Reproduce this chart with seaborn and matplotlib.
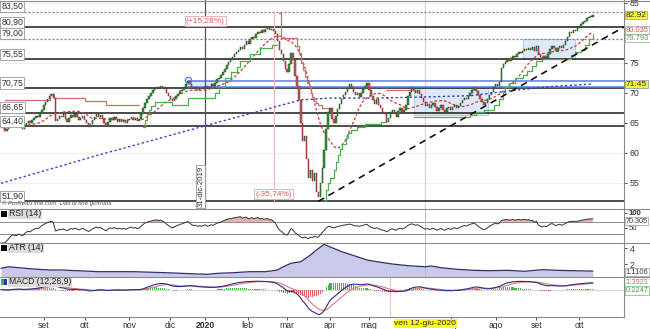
import numpy as np
import pandas as pd
import matplotlib
matplotlib.use("Agg")
import matplotlib.pyplot as plt
import seaborn as sns
from matplotlib.patches import Rectangle
from matplotlib.lines import Line2D

# ---------------- data ----------------
close = [
    64.6, 64.2, 63.6, 64.0, 64.5, 65.0, 65.4, 65.0, 64.8, 65.2, 64.6, 64.0, 64.5, 65.0, 65.3, 65.0, 65.5,
    65.8, 66.2, 66.0, 66.6, 67.2, 67.9, 68.4, 69.0, 69.5, 69.8, 69.2, 65.3,
    65.6, 66.2, 65.9, 66.4, 65.7, 65.2, 65.8, 66.3, 65.9, 66.5, 66.0, 65.4, 65.8, 66.2,
    65.5, 64.9, 64.3, 64.8, 65.5, 66.0, 66.4, 65.9, 66.3, 65.6, 65.0,
    64.4, 65.2, 65.8, 65.4, 65.9, 65.6, 65.2, 65.6, 65.1, 65.5, 65.0, 65.4, 65.7,
    66.0, 65.5, 65.8, 65.3, 65.6, 66.4,
    67.4, 68.3, 68.9, 69.5, 69.9, 70.4, 70.7, 71.0, 70.8, 71.2, 70.9, 70.6, 70.0, 69.5, 69.0, 68.6,
    69.0, 69.5, 69.8, 70.3, 70.5, 71.0, 71.4, 72.0,
    71.5, 71.0, 70.7, 70.9, 70.5, 70.8, 70.6, 70.9, 71.2, 70.8, 71.0, 71.4, 71.2, 71.7, 72.3,
    72.4, 72.9, 73.4, 74.0, 74.6, 75.1, 75.5, 76.0, 76.4, 76.8, 77.2, 77.6, 77.3, 78.0, 78.6,
    78.2, 78.9, 79.3, 79.1, 79.8, 80.2, 79.9, 80.4, 80.2, 80.6, 80.8, 80.5, 80.7, 80.3,
    79.8, 78.6, 77.2, 76.5, 75.3, 74.0, 73.4, 74.8, 76.6, 75.5, 72.8, 71.2, 68.8, 65.0, 62.0,
    62.8, 59.0, 55.8, 57.2, 55.3, 56.6, 53.5, 52.6, 55.0,
    57.5, 60.5, 64.0, 66.8, 67.4, 65.6, 64.9, 66.2, 67.3, 68.1, 68.9, 69.6, 70.1, 70.6,
    71.4, 71.0, 70.2, 69.6, 69.9, 69.3, 70.0, 70.6, 71.2, 71.7, 70.4, 69.4, 68.8, 68.2, 68.9,
    68.0, 67.4, 66.8, 66.5, 65.2, 65.8, 66.8,
    67.2, 66.5, 66.0, 66.9, 67.4, 66.8, 67.2, 68.0, 69.4, 70.2, 70.8, 70.4, 70.0, 70.5, 69.8,
    69.2, 68.4, 67.8, 68.2,
    67.5, 67.9, 68.3, 67.6, 67.0, 67.5, 67.9, 67.2, 66.8, 67.4, 67.7, 67.1, 67.6, 68.0, 67.4,
    67.8, 68.3, 68.8, 69.2, 68.9, 69.5, 69.9, 70.4, 70.8, 70.3, 69.6, 69.0, 68.4, 67.9, 68.3,
    68.9, 69.6, 70.2, 70.9, 71.5, 71.2, 71.8,
    74.2, 74.8, 75.2, 75.6, 75.3, 75.8, 76.1, 75.9, 76.4, 76.8, 76.6, 77.0, 77.3, 77.1, 77.5,
    77.2, 77.6, 77.0, 77.8, 76.4, 76.0, 75.6, 76.2, 75.8, 76.5, 77.3, 77.8, 77.4, 76.9, 77.5,
    77.8, 77.4, 78.0, 78.6, 79.3, 80.1, 80.0, 80.5, 80.3, 80.8, 81.0, 81.4, 81.8, 82.0, 82.4,
    82.6, 82.7, 82.92,
]
last_session = "2020-10-12"
holidays = ["2019-08-15", "2019-12-24", "2019-12-25", "2019-12-26", "2019-12-31",
            "2020-01-01", "2020-04-10", "2020-04-13", "2020-05-01"]

level_solid = [80.90, 75.55, 70.75, 66.65, 64.40, 51.90]
level_dotted = [83.50, 79.00]

blue_band = [71.9, 70.9]
blue_band_start = "2019-12-13"
blue_marker_value = 72.1

box_starts = ["2019-12-13", "2020-06-04", "2020-08-21"]
box_ends = ["2020-01-09", "2020-07-28", "2020-09-29"]
box_lows = [70.9, 66.3, 75.55]
box_highs = [71.9, 70.8, 79.0]

ma200_dates = ["2019-07-31", "2019-10-10", "2020-01-02", "2020-03-11", "2020-04-01", "2020-05-07",
               "2020-06-15", "2020-07-15", "2020-08-12", "2020-09-09", "2020-10-12"]
ma200_vals = [54.9, 59.6, 64.5, 68.8, 69.1, 69.1, 69.3, 69.5, 70.3, 71.0, 71.45]

red_stop_dates = [
    ["2019-08-02", "2019-09-05", "2019-09-09", "2019-10-01", "2019-10-16", "2019-11-08"],
    ["2020-02-25", "2020-02-26", "2020-03-09", "2020-03-10", "2020-03-11", "2020-03-12", "2020-03-13",
     "2020-03-16", "2020-03-17", "2020-03-18", "2020-03-19", "2020-03-20", "2020-03-23", "2020-03-24",
     "2020-03-26", "2020-03-31"],
    ["2020-05-15", "2020-06-04"],
]
red_stop_vals = [
    [68.8, 69.8, 69.2, 68.6, 67.9, 67.9],
    [83.3, 79.1, 77.8, 76.6, 75.0, 73.8, 72.6, 71.6, 70.9, 70.0, 69.3, 68.7, 68.3, 67.9, 67.4, 67.4],
    [70.45, 70.45],
]
green_stop_dates = [
    ["2019-11-12", "2019-11-13", "2019-11-14", "2019-11-15", "2019-11-18", "2019-11-20", "2019-12-03",
     "2019-12-13", "2020-01-09", "2020-01-13", "2020-01-16", "2020-01-21", "2020-01-24", "2020-01-28",
     "2020-02-04", "2020-02-11", "2020-02-19", "2020-02-24"],
    ["2020-03-27", "2020-03-30", "2020-03-31", "2020-04-01", "2020-04-03", "2020-04-06", "2020-04-07",
     "2020-04-08", "2020-04-09", "2020-04-15", "2020-04-16", "2020-04-20", "2020-04-23", "2020-04-29",
     "2020-05-12", "2020-05-15"],
    ["2020-06-04", "2020-07-15", "2020-07-20", "2020-07-24", "2020-07-31", "2020-08-05", "2020-08-07",
     "2020-08-10", "2020-08-12", "2020-08-17", "2020-08-21", "2020-08-25", "2020-08-28", "2020-09-01",
     "2020-09-04", "2020-09-24", "2020-09-25", "2020-09-29", "2020-10-02", "2020-10-06", "2020-10-08",
     "2020-10-12"],
]
green_stop_vals = [
    [64.3, 65.5, 66.5, 67.2, 67.8, 68.5, 68.0, 69.1, 70.0, 71.0, 72.4, 73.5, 74.3, 75.3, 76.5, 77.4,
     77.9, 77.9],
    [52.0, 53.8, 55.0, 55.8, 57.2, 58.5, 59.6, 60.6, 61.5, 62.5, 63.3, 63.8, 64.3, 64.8, 65.1, 65.1],
    [65.9, 66.3, 66.8, 67.2, 68.0, 69.0, 70.2, 70.9, 71.6, 72.5, 73.0, 73.6, 74.5, 75.3, 75.6, 75.6,
     76.3, 76.8, 77.2, 78.0, 79.0, 79.79],
]

trend_dates = ["2020-03-24", "2020-10-12"]
trend_vals = [51.90, 78.0]

atr_dates = ["2019-07-31", "2019-08-06", "2019-08-13", "2019-08-26", "2019-09-05", "2019-09-13",
             "2019-10-10", "2019-11-05", "2019-11-28", "2019-12-10", "2020-01-03", "2020-01-10",
             "2020-01-22", "2020-02-04", "2020-02-14", "2020-02-24", "2020-02-27", "2020-03-04",
             "2020-03-11", "2020-03-18", "2020-03-23", "2020-03-27", "2020-04-09", "2020-04-23",
             "2020-04-30", "2020-05-08", "2020-05-20", "2020-06-01", "2020-06-12", "2020-06-17",
             "2020-06-24", "2020-07-06", "2020-07-17", "2020-07-29", "2020-08-11", "2020-08-24",
             "2020-09-04", "2020-09-16", "2020-09-28", "2020-10-12"]
atr_vals = [1.46, 1.66, 1.54, 1.37, 1.25, 1.25, 1.04, 1.04, 0.91, 0.83, 0.71, 0.83, 0.91, 1.04,
            1.04, 1.25, 1.66, 2.09, 2.29, 3.13, 3.75, 4.45, 3.54, 2.91, 2.5, 2.29, 2.0, 1.79, 1.66,
            1.75, 1.54, 1.34, 1.21, 1.16, 1.21, 1.09, 1.29, 1.21, 1.16, 1.11]

month_starts = ["2019-09-01", "2019-10-01", "2019-11-01", "2019-12-01", "2020-01-01", "2020-02-01",
                "2020-03-01", "2020-04-01", "2020-05-01", "2020-07-01", "2020-08-01",
                "2020-09-01", "2020-10-01"]
month_labels = ["set", "ott", "nov", "dic", "2020", "feb", "mar", "apr", "mag", "lug", "ago",
                "set", "ott"]

main_ticks = [55, 60, 65, 70, 75, 85]
rsi_ticks = [50, 100]
atr_ticks = [2, 4]

# ---------------- helpers ----------------
n = len(close)
dates = pd.bdate_range(end=last_session, periods=n, freq="C", holidays=holidays)
idx = np.arange(n)
c = np.array(close)


def pos(d):
    return int(dates.searchsorted(pd.Timestamp(d)))


s = pd.Series(c)
ma20 = s.rolling(20, min_periods=10).mean()
delta = s.diff()
gain = delta.clip(lower=0).ewm(alpha=1 / 14, adjust=False).mean()
loss = (-delta.clip(upper=0)).ewm(alpha=1 / 14, adjust=False).mean()
rsi = (100 - 100 / (1 + gain / loss)).bfill()
ema12 = s.ewm(span=12, adjust=False).mean()
ema26 = s.ewm(span=26, adjust=False).mean()
macd = ema12 - ema26
signal = macd.ewm(span=9, adjust=False).mean()
hist = macd - signal

# ---------------- figure ----------------
sns.set_theme(style="white")
plt.rcParams["font.family"] = ["Liberation Sans", "DejaVu Sans"]
W, H = 650.0, 329.0
fig = plt.figure(figsize=(6.5, 3.29), dpi=100)
fig.patch.set_facecolor("white")


def rect(top, bottom):
    return [0, 1 - bottom / H, 624 / W, (bottom - top) / H]


ax = fig.add_axes(rect(0, 209))
ax_rsi = fig.add_axes(rect(209, 243), sharex=ax)
ax_atr = fig.add_axes(rect(243, 277), sharex=ax)
ax_macd = fig.add_axes(rect(277, 317), sharex=ax)
XR = 320
GRID = "#8a8a8a"

for a in (ax, ax_rsi, ax_atr, ax_macd):
    a.set_facecolor("white")
    for sp in ("left", "top", "bottom"):
        a.spines[sp].set_visible(False)
    a.spines["right"].set_color(GRID)
    a.spines["right"].set_linewidth(0.8)
    a.yaxis.tick_right()
    a.tick_params(axis="y", labelsize=6.3, colors="#333333", length=2, pad=2, width=0.6)
    a.tick_params(axis="x", bottom=False, labelbottom=False)
    a.set_xlabel("")
    a.set_ylabel("")
ax.set_xlim(-0.5, XR)

# ---------- main panel ----------
ax.set_ylim(50.62, 85.45)
ax.set_yticks(main_ticks)
ax.grid(axis="y", color="#ededed", lw=0.6)
ax.set_axisbelow(True)

for s0, e0, lo, hi in zip(box_starts, box_ends, box_lows, box_highs):
    ax.add_patch(Rectangle((pos(s0), lo), pos(e0) - pos(s0), hi - lo, fc="#dde9f8", ec="#a9c3ec",
                           lw=0.6, zorder=1))

for lv in level_solid:
    ax.axhline(lv, color="#1a1a1a", lw=1.1, zorder=2)
for lv in level_dotted:
    ax.axhline(lv, color="#7a7a7a", lw=0.9, ls=(0, (1.6, 1.6)), zorder=2)
ax.hlines(blue_band, pos(blue_band_start), XR, color="#4f7fe3", lw=1.1, zorder=2)
ax.plot([pos(blue_band_start)], [blue_marker_value], marker="o", ms=4.5, mfc="none",
        mec="#4f7fe3", mew=0.9, zorder=6)

# vertical markers
ax.axvline(pos("2019-12-31"), color="#555555", lw=0.9, zorder=2)
ax.axvline(pos("2020-06-12"), color="#f0c8c8", lw=0.8, zorder=1)
ax.vlines(pos("2020-02-20"), 51.9, 83.5, color="#f0b8b8", lw=0.9, zorder=2)

# moving averages and stops
sns.lineplot(x=idx, y=ma20.values, ax=ax, color="#c83c3c", lw=0.9, linestyle=(0, (2.2, 1.6)), zorder=3)
ma_x = [pos(d) for d in ma200_dates]
sns.lineplot(x=ma_x, y=ma200_vals, ax=ax, color="#3838c8", lw=1.0, linestyle=(0, (1.6, 1.8)), zorder=3)
for ds, vs in zip(red_stop_dates, red_stop_vals):
    sns.lineplot(x=[pos(d) for d in ds], y=vs, ax=ax, color="#d86a6a", lw=0.9,
                 drawstyle="steps-post", zorder=3)
for ds, vs in zip(green_stop_dates, green_stop_vals):
    sns.lineplot(x=[pos(d) for d in ds], y=vs, ax=ax, color="#4cae4c", lw=0.9,
                 drawstyle="steps-post", zorder=3)

# trend line through the two anchors, extended to the right edge
tx0, tx1 = pos(trend_dates[0]), pos(trend_dates[1])
slope = (trend_vals[1] - trend_vals[0]) / (tx1 - tx0)
ax.plot([tx0, XR], [trend_vals[0], trend_vals[0] + slope * (XR - tx0)], color="#111111", lw=1.2,
        ls=(0, (4, 3)), zorder=3)

# candles
o = np.r_[c[0], c[:-1]]
rise = c >= o
body = np.maximum(np.abs(c - o), 0.12)
low = np.minimum(o, c)
ax.bar(idx[rise], body[rise], bottom=low[rise], width=0.72, color="#3f8f3f", edgecolor="#1d4d1d",
       linewidth=0.35, zorder=4)
ax.bar(idx[~rise], body[~rise], bottom=low[~rise], width=0.72, color="#c65a55", edgecolor="#6e2a28",
       linewidth=0.35, zorder=4)

# level labels on the left
ytr = ax.get_yaxis_transform()
for lv in level_solid + level_dotted:
    ax.text(0.002, lv + 0.12, f"{lv:.2f}".replace(".", ","), transform=ytr, ha="left", va="bottom",
            fontsize=6.3, color="#333333", zorder=8,
            bbox=dict(boxstyle="square,pad=0.12", fc="white", ec="#9a9a9a", lw=0.6))


# right-side value tags
def tag(axis, y, txt, fc="white", ec="#9a9a9a", col="#333333", fs=5.4):
    axis.text(1.003, y, txt, transform=axis.get_yaxis_transform(), ha="left", va="center",
              fontsize=fs, color=col, zorder=9, clip_on=False,
              bbox=dict(boxstyle="square,pad=0.08", fc=fc, ec=ec, lw=0.5))


tag(ax, 82.92, "82.92", fc="#f6f62a", ec="#9a9a9a", fs=6)
tag(ax, 80.42, "80.035", col="#c85050")
tag(ax, 79.08, "79.793", col="#4aa24a")
tag(ax, 71.45, "71.45", fc="#f6f62a", ec="#6b8fd8", fs=6)

# annotations
ax.text(pos("2020-01-02"), 81.95, "(+15,28%)", ha="center", va="center", fontsize=6, color="#c86060",
        zorder=8, bbox=dict(boxstyle="square,pad=0.15", fc="white", ec="#e0a8a8", lw=0.6))
ax.text(pos("2020-02-20"), 53.1, "(-35,74%)", ha="center", va="center", fontsize=6, color="#c86060",
        zorder=8, bbox=dict(boxstyle="square,pad=0.15", fc="white", ec="#e0a8a8", lw=0.6))
ax.text(pos("2019-12-31") - 0.6, 0.01, "31-dic-2019", transform=ax.get_xaxis_transform(), rotation=90,
        ha="right", va="bottom", fontsize=5.6, color="#333333", zorder=8,
        bbox=dict(boxstyle="square,pad=0.12", fc="white", ec="#9a9a9a", lw=0.6))
ax.text(0.003, 0.012, "© ProRealTime.com  Dati di fine giornata", transform=ax.transAxes, fontsize=4.3,
        color="#555555", ha="left", va="bottom", style="italic", zorder=8)


def panel_label(axis, txt, colors):
    h = axis.get_position().height * H
    x = 1.0
    for col in colors:
        axis.add_patch(Rectangle((x / 624, 1 - 8 / h), 3.2 / 624, 6 / h, transform=axis.transAxes,
                                 fc=col, ec="none", zorder=9, clip_on=False))
        x += 3.2
    axis.text((x + 1.5) / 624, 1 - 5 / h, txt, transform=axis.transAxes, ha="left", va="center",
              fontsize=6.2, color="#222222", zorder=9,
              bbox=dict(boxstyle="square,pad=0.1", fc="#dcdcdc", ec="none"))


# ---------- RSI ----------
ax_rsi.set_ylim(0, 113)
ax_rsi.set_yticks(rsi_ticks)
ax_rsi.set_yticklabels(["50", "100"])
ax_rsi.tick_params(axis="y", labelsize=5.6, pad=1.5)
ax_rsi.get_yticklabels()[1].set_fontweight("bold")
for lv in (70, 30):
    ax_rsi.axhline(lv, color="#8c8c8c", lw=0.7, zorder=1)
ax_rsi.fill_between(idx, 70, rsi.values, where=rsi.values > 70, interpolate=True, color="#e6b0b0",
                    lw=0, zorder=2)
sns.lineplot(x=idx, y=rsi.values, ax=ax_rsi, color="#333333", lw=0.7, zorder=3)
ax_rsi.axvline(pos("2020-06-12"), color="#bdbdbd", lw=0.7, zorder=1)
tag(ax_rsi, 73.0, "70.305", fs=5.2)
panel_label(ax_rsi, "RSI (14)", ["#000000", "#000000"])

# ---------- ATR ----------
ax_atr.set_ylim(0.375, 4.625)
ax_atr.set_yticks(atr_ticks)
atr_x = [pos(d) for d in atr_dates]
ax_atr.fill_between(atr_x, 0.375, atr_vals, color="#c9c9ea", lw=0, zorder=1)
sns.lineplot(x=atr_x, y=atr_vals, ax=ax_atr, color="#2e2e6e", lw=0.9, zorder=3)
ax_atr.axvline(pos("2020-06-12"), color="#bdbdbd", lw=0.7, zorder=2)
tag(ax_atr, 1.0, "1.1106")
panel_label(ax_atr, "ATR (14)", ["#000000", "#000000"])

# ---------- MACD ----------
mn = float(macd.min())
lower = mn * (317 - 289.5) / (314.5 - 289.5)
upper = -lower * (289.5 - 277) / (317 - 289.5)
ax_macd.set_ylim(lower, upper)
ax_macd.set_yticks([])
ax_macd.axhline(0, color="#d0d0d0", lw=0.6, zorder=1)
ax_macd.bar(idx, hist.values, width=0.55, color=np.where(hist.values >= 0, "#49b049", "#e05a5a"),
            lw=0, zorder=2)
sns.lineplot(x=idx, y=signal.values, ax=ax_macd, color="#d97a8c", lw=0.8, zorder=3)
sns.lineplot(x=idx, y=macd.values, ax=ax_macd, color="#2c2c80", lw=0.8, zorder=4)
ax_macd.axvline(pos("2020-05-19"), color="#f0c0c0", lw=0.7, zorder=1)
ax_macd.text(1.003, (317 - 283) / 40, "1.3921", transform=ax_macd.transAxes, ha="left", va="center",
             fontsize=5.4, color="#d06a7a", clip_on=False,
             bbox=dict(boxstyle="square,pad=0.08", fc="white", ec="#d8d8d8", lw=0.5))
ax_macd.text(1.003, (317 - 290.5) / 40, "0.2247", transform=ax_macd.transAxes, ha="left", va="center",
             fontsize=5.4, color="#3f9f3f", clip_on=False,
             bbox=dict(boxstyle="square,pad=0.08", fc="white", ec="#6cbf6c", lw=0.5))
panel_label(ax_macd, "MACD (12,26,9)", ["#3cb043", "#2c2cc0"])

# x axis (months)
ax_macd.spines["bottom"].set_visible(True)
ax_macd.spines["bottom"].set_color(GRID)
ax_macd.spines["bottom"].set_linewidth(0.8)
ax_macd.set_xticks([pos(m) for m in month_starts])
ax_macd.set_xticklabels(month_labels)
ax_macd.tick_params(axis="x", bottom=True, labelbottom=True, labelsize=6.2, colors="#333333",
                    length=2, width=0.6, pad=0.8)
for lab in ax_macd.get_xticklabels():
    if lab.get_text() == "2020":
        lab.set_fontweight("bold")
ax_macd.set_xlim(-0.5, XR)
ax_macd.text(pos("2020-06-12"), -0.165, "ven 12-giu-2020", transform=ax_macd.get_xaxis_transform(),
             ha="center", va="center", fontsize=6.1, color="#222222", zorder=20, clip_on=False,
             bbox=dict(boxstyle="square,pad=0.1", fc="#ffff1a", ec="none"))

# panel separators across the full width
for ypx in (0.5, 209, 243, 277):
    fig.add_artist(Line2D([0, 1], [1 - ypx / H, 1 - ypx / H], color=GRID, lw=0.8))

fig.savefig("out.png", dpi=100, facecolor="white")
